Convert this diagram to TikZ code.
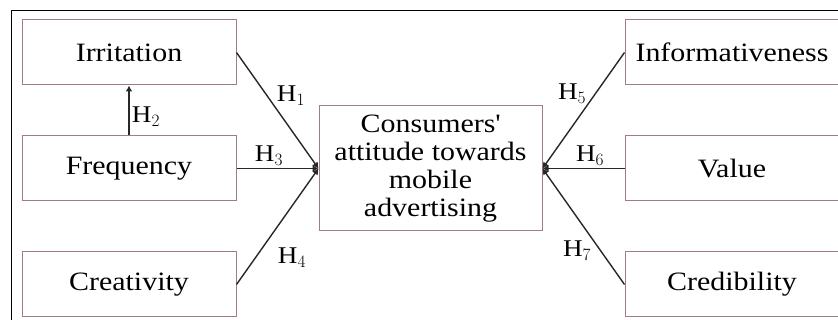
\documentclass[tikz,border=0pt]{standalone}
\usepackage{fontspec}
\setmainfont[FakeStretch=1.13]{Liberation Serif}
\usetikzlibrary{arrows.meta}
\definecolor{boxline}{RGB}{160,125,130}
\definecolor{conn}{RGB}{40,40,40}
\tikzset{
  cbox/.style={draw=boxline, line width=1pt, minimum width=214pt, minimum height=65pt, inner sep=0pt, font=\fontsize{26.5}{28}\selectfont},
  cbig/.style={draw=boxline, line width=1pt, minimum width=223pt, minimum height=125pt, inner sep=0pt, align=center, font=\fontsize{26.5}{28}\selectfont},
  hlink/.style={conn, line width=1.4pt, -{Latex[length=6pt,width=7pt]}},
  hlab/.style={font=\fontsize{24}{26}\selectfont, inner sep=0pt}
}
\begin{document}
\begin{tikzpicture}[x=1pt,y=-1pt]
\useasboundingbox (0,0) rectangle (838,320);
\fill[white] (0,0) rectangle (838,320);
\draw[black, line width=1pt] (11,330) -- (11,11) -- (850,11);
\node[cbox] (irr) at (129,52.5) {Irritation};
\node[cbox] (fre) at (129,168.5) {Frequency};
\node[cbox] (cre) at (129,284.5) {Creativity};
\node[cbig] (att) at (430.5,168.5) {Consumers\textquotesingle\\attitude towards\\mobile\\advertising};
\node[cbox] (inf) at (732,52.5) {Informativeness};
\node[cbox] (val) at (732,168.5) {Value};
\node[cbox] (cred) at (732,284.5) {Credibility};
\coordinate (aL) at (att.west);
\coordinate (aR) at (att.east);
\draw[hlink] (irr.east) -- (aL);
\draw[hlink] (fre.east) -- (aL);
\draw[hlink] (cre.east) -- (aL);
\draw[hlink] (fre.north) -- (irr.south);
\draw[hlink] (inf.west) -- (aR);
\draw[hlink] (val.west) -- (aR);
\draw[hlink] (cred.west) -- (aR);
\node[hlab] (h1) at (291,96) {H$_1$};
\node[hlab] (h2) at (146,117) {H$_2$};
\node[hlab] (h3) at (269,156) {H$_3$};
\node[hlab] (h4) at (292,258) {H$_4$};
\node[hlab] (h5) at (572,94) {H$_5$};
\node[hlab] (h6) at (590,156) {H$_6$};
\node[hlab] (h7) at (577,251) {H$_7$};
\end{tikzpicture}
\end{document}
